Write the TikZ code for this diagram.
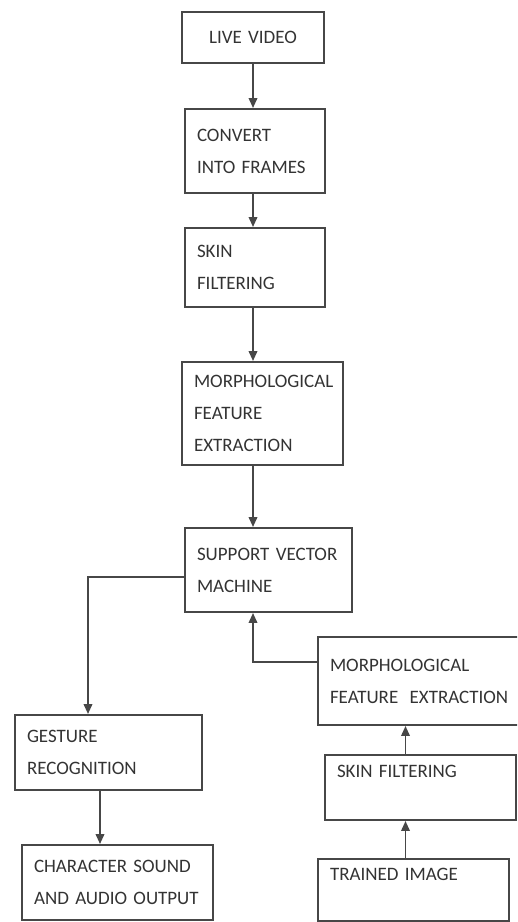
\documentclass[tikz,border=0pt]{standalone}
\usepackage{fontspec}
\setmainfont{Carlito}
\usetikzlibrary{arrows.meta}
\usetikzlibrary{calc, positioning}

\colorlet{frame}{black!72}
\colorlet{ink}{black!80}
\tikzset{
	blk/.style={draw=frame, line width=1.1pt, align=left, text=ink,
	            inner xsep=.24cm, inner ysep=0pt,
	            font=\fontsize{10.8}{18.2}\selectfont},
	flow/.style={draw=frame, line width=1.1pt, -{Triangle[length=.2cm, width=.17cm]}}
}

\begin{document}
\begin{tikzpicture}[x=.02cm, y=-.02cm]
		\useasboundingbox (0,0) rectangle (517,922);
		\clip (0,0) rectangle (517,922);
		\node[blk, text width=2.36cm, align=center, minimum height=1.02cm] (live)   at (253, 37.5) {LIVE VIDEO};
		\node[blk, text width=2.32cm, minimum height=1.68cm] (frames) at (255,151)   {CONVERT\\INTO FRAMES};
		\node[blk, text width=2.32cm, minimum height=1.58cm] (skin)   at (255,267.5) {SKIN\\FILTERING};
		\node[blk, text width=2.74cm, minimum height=2.06cm] (morph)  at (262.5,413.5) {MORPHOLOGICAL\\FEATURE\\EXTRACTION};
		\node[blk, text width=2.86cm, minimum height=1.68cm] (svm)    at (268.5,570) {SUPPORT VECTOR\\MACHINE};
		\node[blk, text width=3.26cm, minimum height=1.50cm] (gesture) at (108.5,752.5) {GESTURE\\RECOGNITION};
		\node[blk, text width=3.34cm, minimum height=1.50cm] (output)  at (117.5,882.5) {CHARACTER SOUND\\AND AUDIO OUTPUT};
		% training side
		\node[blk, text width=3.60cm, minimum height=1.76cm] (tmorph) at (420,681)   {MORPHOLOGICAL\\\mbox{FEATURE\hspace{.6em}EXTRACTION}};
		\node[blk, text width=3.34cm, minimum height=1.30cm] (tskin)  at (420.5,787.5) {SKIN FILTERING\\~};
		\node[blk, text width=3.34cm, minimum height=1.24cm] (trained) at (413.5,890) {TRAINED IMAGE\\~};
		\coordinate (tcol) at ([xshift=-.3cm]tskin.north);
		\draw[flow] (live.south)   -- (live.south |- frames.north);
		\draw[flow] (frames.south -| live.south) -- (live.south |- skin.north);
		\draw[flow] (skin.south -| live.south)   -- (live.south |- morph.north);
		\draw[flow] (morph.south -| live.south)  -- (live.south |- svm.north);
		\draw[flow] ([yshift=-.14cm]svm.west) -| ([xshift=-.41cm]gesture.north);
		\draw[flow] ([xshift=-.17cm]gesture.south) -- ([xshift=-.17cm]gesture.south |- output.north);
		\draw[flow] ([yshift=.38cm]tmorph.west) -| (svm.south -| live.south);
		\draw[flow] (tcol) -- (tcol |- tmorph.south);
		\draw[flow] (trained.north -| tcol) -- (tcol |- tskin.south);
	\end{tikzpicture}
\end{document}
